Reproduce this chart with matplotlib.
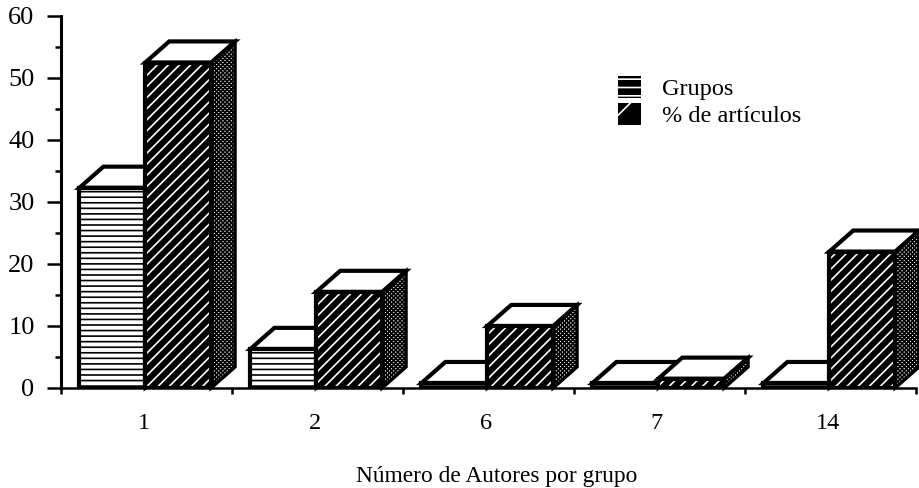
import matplotlib
matplotlib.use("Agg")
import matplotlib.pyplot as plt
from matplotlib.patches import Polygon, Patch

plt.rcParams["font.family"] = ["Liberation Serif", "DejaVu Serif"]
plt.rcParams["hatch.linewidth"] = 1.2

categories = ["1", "2", "6", "7", "14"]
grupos = [32.3, 6.3, 0.8, 0.8, 0.8]
articulos = [52.5, 15.5, 10, 1.5, 22]
y_ticks = [0, 10, 20, 30, 40, 50, 60]
y_minor = [5, 15, 25, 35, 45, 55]

bar_w = 0.385
bar_off = 0.108
depth_x = 0.14
depth_y = 3.4


def draw_bar(ax, x0, h, front_fc, front_ec, front_hatch):
    x1 = x0 + bar_w
    # side face, then top, then front
    side = [(x1, 0), (x1 + depth_x, depth_y), (x1 + depth_x, h + depth_y), (x1, h)]
    top = [(x0, h), (x0 + depth_x, h + depth_y), (x1 + depth_x, h + depth_y), (x1, h)]
    front = [(x0, 0), (x0, h), (x1, h), (x1, 0)]
    ax.add_patch(Polygon(side, closed=True, facecolor="white", edgecolor="black",
                         hatch="xxxxxxxx", lw=0, clip_on=False, zorder=3))
    ax.add_patch(Polygon(side, closed=True, fill=False, edgecolor="black", lw=2.4,
                         clip_on=False, zorder=3))
    ax.add_patch(Polygon(top, closed=True, facecolor="white", edgecolor="black", lw=3,
                         joinstyle="miter", clip_on=False, zorder=3))
    ax.add_patch(Polygon(front, closed=True, facecolor=front_fc, edgecolor=front_ec,
                         hatch=front_hatch, lw=0, zorder=3))
    ax.add_patch(Polygon(front, closed=True, fill=False, edgecolor="black", lw=3,
                         joinstyle="miter", zorder=3))


fig = plt.figure(figsize=(9.2, 4.88), dpi=100)
ax = fig.add_axes([61 / 920, 1 - 388 / 488, 855 / 920, 372 / 488])
ax.set_xlim(0, 5)
ax.set_ylim(0, 60)

for i in range(len(categories)):
    x0 = i + bar_off
    draw_bar(ax, x0, grupos[i], "white", "black", "---")
    draw_bar(ax, x0 + bar_w, articulos[i], "black", "white", "///")

ax.spines["top"].set_visible(False)
ax.spines["right"].set_visible(False)
ax.spines["left"].set_linewidth(2.2)
ax.spines["bottom"].set_linewidth(1.8)

ax.set_yticks(y_ticks)
ax.set_yticks(y_minor, minor=True)
ax.tick_params(axis="y", which="major", length=10, width=1.8, labelsize=19, pad=9)
ax.tick_params(axis="y", which="minor", length=4, width=1.8)
ax.set_xticks(range(6))
ax.set_xticklabels([])
ax.tick_params(axis="x", which="major", length=4.5, width=1.8)
ax.set_xticks([i + 0.485 for i in range(5)], minor=True)
ax.set_xticklabels(categories, minor=True, fontsize=17.5)
ax.tick_params(axis="x", which="minor", length=0, pad=18)

ax.text(0.51, -0.239, "Número de Autores por grupo", transform=ax.transAxes,
        ha="center", va="center", fontsize=16.8)

handles = [Patch(facecolor="black", edgecolor="white", hatch="--", lw=0, label="Grupos"),
           Patch(facecolor="black", edgecolor="white", hatch="/", lw=0, label="% de artículos")]
leg = ax.legend(handles=handles, loc="upper left", bbox_to_anchor=(0.651, 0.84), frameon=False,
                fontsize=17.5, handlelength=0.95, handleheight=1.05, handletextpad=0.86,
                labelspacing=0.1, borderaxespad=0, borderpad=0)
leg.set_zorder(5)

fig.savefig("out.png", dpi=100)
